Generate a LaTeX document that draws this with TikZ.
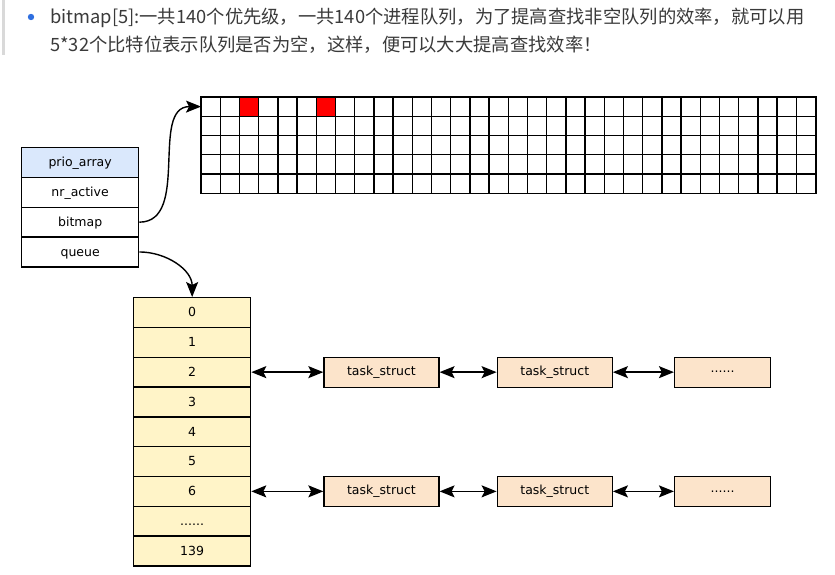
\documentclass[tikz,border=0pt]{standalone}
\usepackage{fontspec}
\setmainfont{DejaVu Sans}
\newfontfamily\cjk{Noto Sans CJK SC}
\usetikzlibrary{shapes,positioning,arrows.meta}
\definecolor{headblue}{HTML}{DAE8FC}
\definecolor{slotyellow}{HTML}{FFF4C8}
\definecolor{taskpeach}{HTML}{FCE4CB}
\definecolor{dotblue}{HTML}{2F6FE0}
\definecolor{notegray}{HTML}{3A3A3A}
\newcommand{\cellh}{\rule[-10pt]{0pt}{28.5pt}}

\begin{document}
\begin{tikzpicture}[x=1pt,y=1pt]
\tikzstyle{every node}=[font=\fontsize{12.5}{14}\selectfont]
\tikzstyle{vlist}=[rectangle split, draw, line width=1.3pt, inner ysep=0pt, minimum width=117pt]
\tikzstyle{task}=[draw, line width=1.3pt, fill=taskpeach, minimum width=115pt, minimum height=30pt, inner sep=0pt]
\tikzstyle{link}=[{Stealth[length=15pt,width=12pt,inset=3pt]}-{Stealth[length=15pt,width=12pt,inset=3pt]}, line width=1.4pt]
\tikzstyle{arrow}=[-{Stealth[length=15pt,width=12pt,inset=3pt]}, line width=1.4pt]
\tikzstyle{gridline}=[line width=1.4pt]
\fill[white] (0,0) rectangle (835,-574);
\useasboundingbox (0,0) rectangle (835,-574);

\fill[gray!30] (2,0) rectangle (4.5,-55);
\fill[dotblue] (31,-17) circle (3.2);
\node[anchor=west, text=notegray, align=left, inner sep=0pt, font=\cjk\fontsize{18.3}{28}\selectfont] (note) at (50,-31)
  {bitmap[5]:一共140个优先级，一共140个进程队列，为了提高查找非空队列的效率，就可以用\\5*32个比特位表示队列是否为空，这样，便可以大大提高查找效率！};

\node[vlist, rectangle split parts=4, rectangle split part fill={headblue,white,white,white}, anchor=north west] (prio) at (21,-147)
  {\cellh prio\_array \nodepart{two}\cellh nr\_active \nodepart{three}\cellh bitmap \nodepart{four}\cellh queue};

\node[inner sep=0pt, minimum width=614.4pt, minimum height=96pt, anchor=north west] (bits) at (201,-97) {};
\foreach \c in {2,6}
  \fill[red] ([xshift=\c*19.2pt]bits.north west) rectangle ++(19.2,-19.2);
\foreach \c in {1,...,31}
  \draw[gridline] ([xshift=\c*19.2pt]bits.north west) -- ([xshift=\c*19.2pt]bits.south west);
\foreach \r in {1,...,4}
  \draw[gridline] ([yshift=-\r*19.2pt]bits.north west) -- ([yshift=-\r*19.2pt]bits.north east);
\draw[gridline] (bits.north west) rectangle (bits.south east);

\node[vlist, rectangle split parts=9, rectangle split part fill={slotyellow}, anchor=north west] (queue) at (133,-297)
  {\cellh 0 \nodepart{two}\cellh 1 \nodepart{three}\cellh 2 \nodepart{four}\cellh 3
   \nodepart{five}\cellh 4 \nodepart{six}\cellh 5 \nodepart{seven}\cellh 6
   \nodepart{eight}\cellh ...... \nodepart{nine}\cellh 139};

\draw[arrow] (prio.three east) to[out=0,in=180] ([yshift=-9.6pt]bits.north west);
\draw[arrow] (prio.four east) to[out=0,in=90] (queue.north);

\node[task, right=72pt of queue.three east] (ta) {task\_struct};
\node[task, right=57pt of ta] (tb) {task\_struct};
\node[task, minimum width=96pt, right=61pt of tb] (tc) {......};
\node[task, right=72pt of queue.seven east] (sa) {task\_struct};
\node[task, right=57pt of sa] (sb) {task\_struct};
\node[task, minimum width=96pt, right=61pt of sb] (sc) {......};

\draw[link] (queue.three east) -- (ta.west);
\draw[link] (ta.east) -- (tb.west);
\draw[link] (tb.east) -- (tc.west);
\draw[link] (queue.seven east) -- (sa.west);
\draw[link] (sa.east) -- (sb.west);
\draw[link] (sb.east) -- (sc.west);
\end{tikzpicture}
\end{document}
